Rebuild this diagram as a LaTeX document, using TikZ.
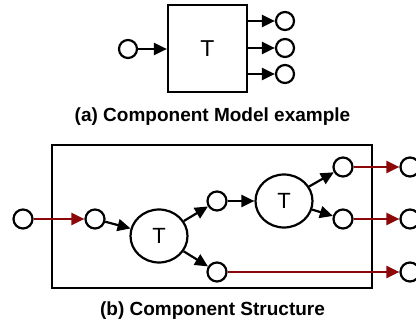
\documentclass[tikz,border=0pt]{standalone}
\usepackage{fontspec}
\setmainfont{Liberation Sans}
\usetikzlibrary{arrows.meta,shapes.geometric}
\definecolor{darkred}{RGB}{140,8,8}
\tikzset{
  port/.style={circle,draw,line width=2.2pt,minimum size=18pt,inner sep=0pt},
  bigport/.style={circle,draw,line width=2.2pt,minimum size=19pt,inner sep=0pt},
  trans/.style={ellipse,draw,line width=2.2pt,minimum width=57pt,minimum height=53pt,inner sep=0pt,font=\fontsize{22}{22}\selectfont},
  blk/.style={draw,line width=2.2pt},
  arr/.style={line width=2.2pt,-{Triangle[length=13pt,width=12pt]}},
  redarr/.style={arr,draw=darkred,-{Triangle[length=13pt,width=12pt,fill=darkred]}},
  captext/.style={font=\bfseries\fontsize{19}{19}\selectfont}
}
\begin{document}
\begin{tikzpicture}[x=1pt,y=-1pt]
\useasboundingbox (0,0) rectangle (416,324);
% (a)
\node[blk,minimum width=79pt,minimum height=87pt,inner sep=0pt,font=\fontsize{23}{23}\selectfont] (box) at (207.5,48.5) {T};
\node[port] (ain) at (128,49) {};
\node[port] (ao1) at (285,21) {};
\node[port] (ao2) at (285,48) {};
\node[port] (ao3) at (285,74) {};
\draw[arr] (ain) -- (box.west |- ain);
\draw[arr] (box.east |- ao1) -- (ao1);
\draw[arr] (box.east |- ao2) -- (ao2);
\draw[arr] (box.east |- ao3) -- (ao3);
\node[captext] (capa) at (212.5,117) {(a) Component Model example};
% (b)
\node[blk,minimum width=320pt,minimum height=143pt,inner sep=0pt] (frame) at (212,216.5) {};
\node[bigport] (bin) at (23,219) {};
\node[bigport] (c1) at (95,219) {};
\node[trans] (t1) at (159,236) {T};
\node[bigport] (m) at (217,201) {};
\node[bigport] (bt) at (217,272) {};
\node[trans] (t2) at (284,201) {T};
\node[bigport] (tr) at (343,167) {};
\node[bigport] (rm) at (343,219) {};
\node[bigport] (o1) at (410,167) {};
\node[bigport] (o2) at (410,219) {};
\node[bigport] (o3) at (410,272) {};
\draw[redarr] (bin) -- (c1);
\draw[arr] (c1) -- (t1);
\draw[arr] (t1) -- (m);
\draw[arr] (t1) -- (bt);
\draw[arr] (m) -- (t2);
\draw[arr] (t2) -- (tr);
\draw[arr] (t2) -- (rm);
\draw[redarr] (tr) -- (o1);
\draw[redarr] (rm) -- (o2);
\draw[redarr] (bt) -- (o3);
\node[captext] (capb) at (212.5,311) {(b) Component Structure};
\end{tikzpicture}
\end{document}
